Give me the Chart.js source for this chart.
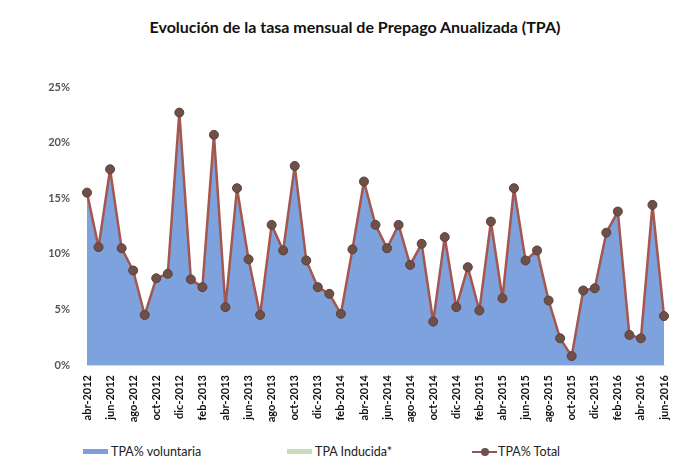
<!DOCTYPE html>
<html>
<head>
<meta charset="utf-8">
<script src="https://cdn.jsdelivr.net/npm/chart.js@4"></script>
<style>
  html, body { margin: 0; padding: 0; background: #fff; }
  #wrap { position: relative; width: 686px; height: 475px; font-family: Lato, 'Open Sans', sans-serif; }
  #title { position: absolute; top: 17px; left: 0; width: 710px; text-align: center;
           font-weight: bold; font-size: 16px; color: #111; }
  #chartBox { position: absolute; left: 0; top: 0; width: 686px; height: 430px; }
  .lg { position: absolute; top: 444px; font-size: 12.5px; color: #222; white-space: nowrap; line-height: 16px; }
  .sw { display: inline-block; width: 25px; height: 5px; vertical-align: middle; margin-right: 3px; margin-top: -2px; }
  .ln { display: inline-block; position: relative; width: 25px; height: 2px; background: #8a5a52; vertical-align: middle; margin-right: 1px; margin-top: -2px; }
  .ln::after { content: ''; position: absolute; left: 9px; top: -3px; width: 8px; height: 8px; border-radius: 50%; background: #6e5048; }
</style>
</head>
<body>
<div id="wrap">
  <div id="title">Evolución de la tasa mensual de Prepago Anualizada (TPA)</div>
  <div id="chartBox"><canvas id="c"></canvas></div>
  <div class="lg" style="left:83px"><span class="sw" style="background:#7b9fdc"></span>TPA% voluntaria</div>
  <div class="lg" style="left:287px"><span class="sw" style="background:#c9dcb8"></span>TPA Inducida*</div>
  <div class="lg" style="left:472px"><span class="ln"></span>TPA% Total</div>
</div>
<script>
'use strict';

const months = [
  'abr-2012', 'may-2012', 'jun-2012', 'jul-2012', 'ago-2012', 'sep-2012', 'oct-2012', 'nov-2012', 'dic-2012',
  'ene-2013', 'feb-2013', 'mar-2013', 'abr-2013', 'may-2013', 'jun-2013', 'jul-2013', 'ago-2013', 'sep-2013', 'oct-2013', 'nov-2013', 'dic-2013',
  'ene-2014', 'feb-2014', 'mar-2014', 'abr-2014', 'may-2014', 'jun-2014', 'jul-2014', 'ago-2014', 'sep-2014', 'oct-2014', 'nov-2014', 'dic-2014',
  'ene-2015', 'feb-2015', 'mar-2015', 'abr-2015', 'may-2015', 'jun-2015', 'jul-2015', 'ago-2015', 'sep-2015', 'oct-2015', 'nov-2015', 'dic-2015',
  'ene-2016', 'feb-2016', 'mar-2016', 'abr-2016', 'may-2016', 'jun-2016',
];

const tpaTotal = [
  15.5, 10.6, 17.6, 10.5, 8.5, 4.5, 7.8, 8.2, 22.7,
  7.7, 7.0, 20.7, 5.2, 15.9, 9.5, 4.5, 12.6, 10.3, 17.9, 9.4, 7.0,
  6.4, 4.6, 10.4, 16.5, 12.6, 10.5, 12.6, 9.0, 10.9, 3.9, 11.5, 5.2,
  8.8, 4.9, 12.9, 6.0, 15.9, 9.4, 10.3, 5.8, 2.4, 0.8, 6.7, 6.9,
  11.9, 13.8, 2.7, 2.4, 14.4, 4.4,
];

// voluntaria sits right under the total line; inducida is not visible
const tpaVoluntaria = tpaTotal.slice();
const tpaInducida = months.map(() => 0);

const yTicks = [0, 5, 10, 15, 20, 25];

new Chart(document.getElementById('c'), {
  type: 'line',
  data: {
    labels: months,
    datasets: [
      {
        label: 'TPA% Total',
        data: tpaTotal,
        borderColor: '#a4574f',
        borderWidth: 2.5,
        borderJoinStyle: 'round',
        pointRadius: 4.5,
        pointBackgroundColor: '#6e5048',
        pointBorderColor: '#5c4039',
        pointBorderWidth: 1,
        fill: false,
        tension: 0,
        order: 0,
      },
      {
        label: 'TPA% voluntaria',
        data: tpaVoluntaria,
        borderWidth: 0,
        pointRadius: 0,
        backgroundColor: '#7ea2dd',
        fill: 'origin',
        tension: 0,
        order: 2,
      },
      {
        label: 'TPA Inducida*',
        data: tpaInducida,
        borderWidth: 0,
        pointRadius: 0,
        backgroundColor: '#c9dcb8',
        fill: false,
        order: 1,
      },
    ],
  },
  options: {
    responsive: true,
    maintainAspectRatio: false,
    animation: false,
    layout: { padding: { top: 87, right: 22, bottom: 3, left: 0 } },
    plugins: {
      legend: { display: false },
      tooltip: { enabled: false },
    },
    scales: {
      x: {
        offset: false,
        grid: { display: false },
        border: { display: true, color: '#d8d8d8' },
        afterFit: s => { s.height = 62; },
        ticks: {
          autoSkip: false,
          minRotation: 90,
          maxRotation: 90,
          padding: 2,
          color: '#111',
          font: { size: 11, family: 'Lato', weight: 'bold' },
          callback: (v, i) => (i % 2 === 0 ? months[i] : ''),
        },
      },
      y: {
        min: 0,
        max: 25,
        afterFit: s => { s.width = 87; },
        afterBuildTicks: s => { s.ticks = yTicks.map(v => ({ value: v })); },
        grid: { display: false },
        border: { display: false },
        ticks: {
          padding: 9,
          color: '#555',
          font: { size: 11, family: 'Lato', weight: 'bold' },
          callback: v => v + '%',
        },
      },
    },
  },
});
</script>
</body>
</html>
